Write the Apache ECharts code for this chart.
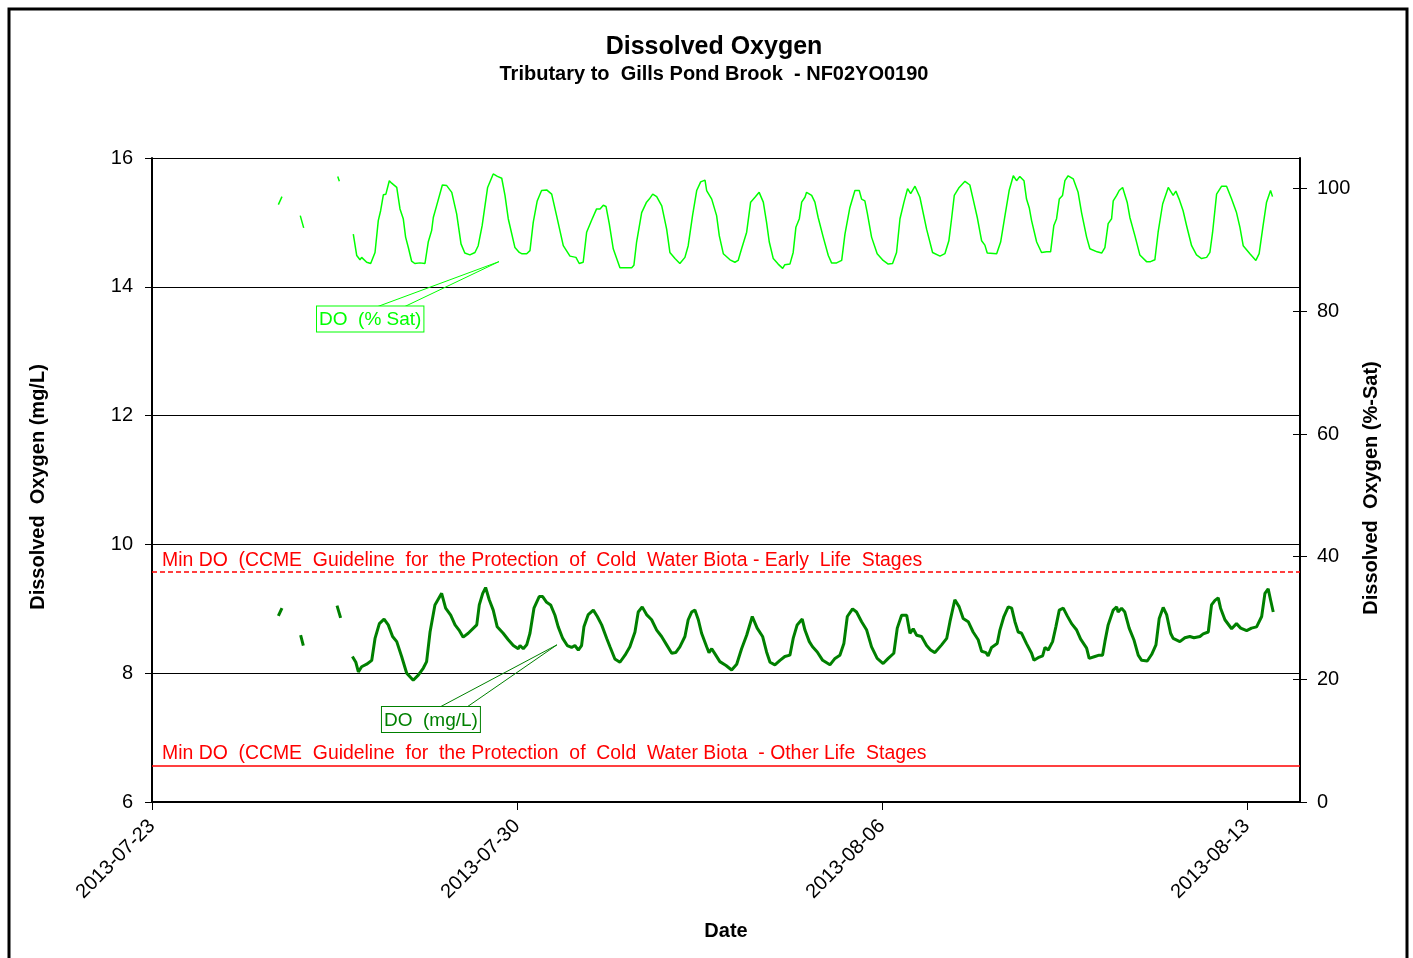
<!DOCTYPE html>
<html>
<head>
<meta charset="utf-8">
<title>Dissolved Oxygen</title>
<script src="https://cdn.jsdelivr.net/npm/echarts@6/dist/echarts.min.js"></script>
<style>
  html, body { margin: 0; padding: 0; background: #fff; }
  #main { width: 1413px; height: 958px; }
</style>
</head>
<body>
<div id="main"></div>
<script>
var FONT = '"Liberation Sans", Arial, sans-serif';
var START = '2013-07-23T00:00';

// DO in % saturation (right axis); null = logger gap
var satTimes = [
  '07-25 10:10','07-25 11:50','07-25 16:00','07-25 20:15','07-25 21:50','07-26 06:00','07-26 13:30','07-26 14:15','07-26 17:00',
  '07-26 20:40','07-26 22:15','07-26 23:45','07-27 00:30','07-27 02:50','07-27 04:40','07-27 06:40','07-27 08:10','07-27 09:15',
  '07-27 10:30','07-27 11:40','07-27 13:15','07-27 14:20','07-27 16:40','07-27 18:10','07-27 19:40','07-27 20:45','07-27 22:00',
  '07-27 23:30','07-28 01:00','07-28 03:20','07-28 05:40','07-28 07:10','07-28 08:45','07-28 09:30','07-28 11:00','07-28 13:40',
  '07-28 15:40','07-28 18:00','07-28 20:15','07-28 22:15','07-29 00:00','07-29 02:20','07-29 04:40','07-29 06:10','07-29 08:00',
  '07-29 10:30','07-29 13:05','07-29 15:00','07-29 17:00','07-29 18:30','07-29 20:00','07-29 23:05','07-30 01:05','07-30 02:10',
  '07-30 04:30','07-30 06:00','07-30 07:30','07-30 09:20','07-30 11:20','07-30 13:40','07-30 16:00','07-30 18:15','07-30 21:20',
  '07-31 00:25','07-31 03:10','07-31 04:40','07-31 06:30','07-31 08:05','07-31 10:25','07-31 12:40','07-31 14:15','07-31 15:45',
  '07-31 17:00','07-31 18:30','07-31 20:20','07-31 23:25','08-01 04:50','08-01 05:50','08-01 07:05','08-01 09:25','08-01 11:40',
  '08-01 12:55','08-01 14:30','08-01 16:20','08-01 18:40','08-01 20:55','08-01 22:25','08-02 00:45','08-02 03:00','08-02 05:20',
  '08-02 06:50','08-02 08:50','08-02 10:45','08-02 12:35','08-02 14:35','08-02 15:20','08-02 17:40','08-02 19:55','08-02 21:10',
  '08-02 23:00','08-03 02:05','08-03 04:20','08-03 05:50','08-03 07:25','08-03 09:45','08-03 11:35','08-03 13:35','08-03 15:30',
  '08-03 17:25','08-03 18:55','08-03 20:10','08-03 22:00','08-04 00:15','08-04 02:20','08-04 03:20','08-04 05:40','08-04 07:10',
  '08-04 08:25','08-04 10:00','08-04 11:05','08-04 12:35','08-04 13:20','08-04 15:40','08-04 17:10','08-04 18:40','08-04 21:00',
  '08-04 23:20','08-05 00:50','08-05 03:10','08-05 05:30','08-05 07:00','08-05 09:15','08-05 11:35','08-05 13:35','08-05 14:40',
  '08-05 16:10','08-05 17:15','08-05 19:15','08-05 21:50','08-06 00:35','08-06 02:55','08-06 04:55','08-06 06:45','08-06 08:20',
  '08-06 10:10','08-06 11:50','08-06 13:15','08-06 15:15','08-06 17:30','08-06 20:35','08-06 23:20','08-07 02:45','08-07 05:00',
  '08-07 06:50','08-07 08:05','08-07 09:20','08-07 11:35','08-07 14:15','08-07 16:30','08-07 18:00','08-07 19:55','08-07 21:55',
  '08-07 23:25','08-08 00:30','08-08 04:50','08-08 06:40','08-08 08:40','08-08 10:35','08-08 12:30','08-08 14:00','08-08 15:30',
  '08-08 17:25','08-08 18:35','08-08 19:50','08-08 20:55','08-08 23:15','08-09 01:30','08-09 03:50','08-09 05:40','08-09 07:10',
  '08-09 08:25','08-09 09:40','08-09 11:10','08-09 12:15','08-09 13:45','08-09 16:05','08-09 18:20','08-09 19:55','08-09 22:15',
  '08-09 23:45','08-10 03:05','08-10 05:10','08-10 06:40','08-10 08:10','08-10 09:45','08-10 10:30','08-10 12:05','08-10 13:15',
  '08-10 14:50','08-10 16:55','08-10 18:10','08-10 20:30','08-10 22:45','08-11 01:50','08-11 03:40','08-11 05:40','08-11 07:10',
  '08-11 09:15','08-11 11:50','08-11 14:05','08-11 15:20','08-11 16:50','08-11 18:40','08-11 20:15','08-11 22:35','08-12 00:50',
  '08-12 03:10','08-12 05:30','08-12 07:00','08-12 08:15','08-12 10:05','08-12 12:25','08-12 14:40','08-12 17:00','08-12 19:15',
  '08-12 20:50','08-12 22:20','08-13 01:25','08-13 04:10','08-13 05:40','08-13 07:30','08-13 09:05','08-13 10:55','08-13 11:50'
];
var satValues = [
  97.4, 98.7, null, 95.6, 93.6, null, 102.0, 101.2, null,
  92.6, 89.1, 88.4, 88.8, 88.0, 87.8, 89.6, 94.8, 96.4,
  99.0, 99.1, 101.3, 100.9, 100.2, 96.7, 95.1, 92.1, 90.4,
  88.2, 87.8, 87.9, 87.8, 91.3, 93.2, 95.3, 97.2, 100.6,
  100.5, 99.4, 95.9, 91.0, 89.5, 89.2, 89.6, 90.7, 94.0,
  100.2, 102.4, 102.0, 101.7, 98.9, 95.1, 90.4, 89.6, 89.4,
  89.4, 89.9, 94.5, 98.0, 99.7, 99.8, 99.1, 95.6, 90.7,
  89.0, 88.8, 87.8, 88.0, 92.9, 94.9, 96.7, 96.7, 97.3,
  97.1, 94.3, 90.2, 87.1, 87.1, 87.5, 91.3, 96.1, 97.8,
  98.3, 99.1, 98.7, 97.2, 93.4, 89.6, 88.6, 87.8, 88.8,
  90.7, 95.6, 99.7, 101.1, 101.4, 99.7, 98.3, 95.6, 92.3,
  89.4, 88.4, 88.0, 88.3, 90.2, 92.9, 97.8, 98.6, 99.4,
  97.8, 94.5, 91.3, 88.6, 87.7, 87.0, 87.6, 87.7, 89.6,
  93.7, 95.1, 97.8, 98.6, 99.4, 98.9, 97.8, 95.3, 92.1,
  89.1, 87.9, 87.9, 88.3, 92.6, 96.9, 99.7, 99.7, 98.3,
  98.0, 96.1, 92.1, 89.4, 88.3, 87.7, 87.8, 89.6, 95.1,
  97.8, 100.0, 99.2, 100.4, 98.6, 93.4, 89.6, 89.0, 89.4,
  91.5, 95.1, 98.9, 100.2, 101.2, 100.6, 98.3, 95.3, 91.5,
  90.8, 89.5, 89.4, 91.3, 95.6, 99.7, 102.1, 101.3, 102.0,
  101.3, 98.3, 96.9, 94.8, 91.3, 89.6, 89.7, 89.7, 94.0,
  95.1, 98.3, 98.9, 101.3, 102.1, 101.6, 99.4, 96.1, 92.1,
  90.2, 89.7, 89.5, 90.4, 94.3, 95.1, 98.0, 98.9, 99.7,
  100.2, 97.8, 95.3, 92.3, 89.2, 88.1, 88.1, 88.4, 92.9,
  97.5, 100.2, 98.9, 99.6, 98.3, 96.4, 94.0, 90.7, 89.2,
  88.6, 88.8, 89.6, 92.9, 99.1, 100.4, 100.4, 98.3, 96.1,
  93.7, 90.7, 89.4, 88.3, 89.4, 94.0, 97.8, 99.7, 98.7
];

// DO in mg/L (left axis); null = logger gap
var mglTimes = [
  '07-25 10:10','07-25 11:50','07-25 16:00','07-25 20:25','07-25 21:40','07-26 06:00','07-26 13:10','07-26 14:50','07-26 17:00',
  '07-26 20:15','07-26 21:50','07-26 23:00','07-27 00:30','07-27 02:50','07-27 05:10','07-27 06:40','07-27 08:40','07-27 10:50',
  '07-27 12:45','07-27 14:45','07-27 16:40','07-27 18:55','07-27 21:15','07-28 00:15','07-28 02:35','07-28 04:55','07-28 06:25',
  '07-28 08:00','07-28 10:15','07-28 13:20','07-28 15:10','07-28 17:30','07-28 19:30','07-28 21:20','07-28 23:15','07-29 01:35',
  '07-29 05:30','07-29 06:40','07-29 08:15','07-29 09:35','07-29 11:15','07-29 13:05','07-29 14:55','07-29 17:40','07-29 20:00',
  '07-29 22:20','07-30 00:35','07-30 01:25','07-30 02:55','07-30 04:30','07-30 06:00','07-30 07:50','07-30 10:15','07-30 11:50',
  '07-30 13:40','07-30 15:30','07-30 17:30','07-30 19:00','07-30 21:05','07-30 23:10','07-31 01:10','07-31 02:40','07-31 04:15',
  '07-31 05:45','07-31 06:50','07-31 08:50','07-31 11:10','07-31 13:00','07-31 15:00','07-31 17:20','07-31 18:50','07-31 21:05',
  '07-31 23:25','08-01 01:45','08-01 04:00','08-01 06:20','08-01 07:50','08-01 09:40','08-01 11:40','08-01 14:00','08-01 16:20',
  '08-01 18:35','08-01 20:55','08-01 23:15','08-02 01:05','08-02 03:00','08-02 05:20','08-02 06:50','08-02 08:25','08-02 09:55',
  '08-02 11:30','08-02 13:00','08-02 15:20','08-02 16:25','08-02 17:40','08-02 19:10','08-02 21:25','08-03 00:15','08-03 02:50',
  '08-03 05:10','08-03 07:25','08-03 09:45','08-03 12:20','08-03 14:35','08-03 17:05','08-03 18:55','08-03 20:30','08-03 22:45',
  '08-04 01:05','08-04 03:20','08-04 05:40','08-04 07:10','08-04 09:00','08-04 11:20','08-04 12:35','08-04 14:35','08-04 16:05',
  '08-04 18:15','08-04 20:45','08-05 00:05','08-05 02:25','08-05 04:40','08-05 06:30','08-05 08:05','08-05 10:30','08-05 12:20',
  '08-05 14:40','08-05 17:00','08-05 19:15','08-05 21:50','08-06 00:35','08-06 02:55','08-06 05:30','08-06 07:05','08-06 09:05',
  '08-06 11:25','08-06 12:55','08-06 14:25','08-06 16:00','08-06 18:15','08-06 20:35','08-06 22:25','08-07 00:25','08-07 03:30',
  '08-07 05:50','08-07 07:20','08-07 09:35','08-07 11:35','08-07 13:25','08-07 15:45','08-07 18:00','08-07 20:20','08-07 21:55',
  '08-07 23:55','08-08 00:55','08-08 02:30','08-08 05:05','08-08 06:20','08-08 08:10','08-08 10:10','08-08 11:45','08-08 13:15',
  '08-08 14:45','08-08 16:20','08-08 18:35','08-08 20:55','08-08 22:00','08-08 23:55','08-09 02:00','08-09 03:05','08-09 04:35',
  '08-09 06:35','08-09 08:05','08-09 09:40','08-09 11:30','08-09 13:20','08-09 15:20','08-09 17:40','08-09 19:30','08-09 22:15',
  '08-09 23:25','08-10 02:05','08-10 04:00','08-10 05:35','08-10 06:40','08-10 08:10','08-10 10:30','08-10 12:05','08-10 12:45',
  '08-10 14:20','08-10 15:50','08-10 17:50','08-10 20:00','08-10 22:00','08-10 23:35','08-11 02:10','08-11 04:10','08-11 06:10',
  '08-11 07:40','08-11 09:30','08-11 11:05','08-11 12:55','08-11 14:05','08-11 17:10','08-11 19:30','08-11 21:45','08-11 23:40',
  '08-12 02:25','08-12 03:55','08-12 06:15','08-12 07:45','08-12 09:20','08-12 10:50','08-12 11:55','08-12 13:55','08-12 17:00',
  '08-12 19:15','08-12 21:10','08-12 23:55','08-13 02:10','08-13 04:30','08-13 06:50','08-13 08:20','08-13 09:50','08-13 10:55',
  '08-13 12:10'
];
var mglValues = [
  8.89, 9.01, null, 8.59, 8.43, null, 9.05, 8.86, null,
  8.26, 8.17, 8.02, 8.10, 8.14, 8.20, 8.54, 8.77, 8.84,
  8.75, 8.57, 8.49, 8.26, 8.00, 7.89, 7.97, 8.08, 8.18,
  8.64, 9.06, 9.24, 9.01, 8.90, 8.75, 8.67, 8.56, 8.62,
  8.75, 9.06, 9.24, 9.33, 9.14, 8.98, 8.72, 8.62, 8.52,
  8.43, 8.38, 8.43, 8.38, 8.44, 8.62, 9.01, 9.19, 9.19,
  9.10, 9.06, 8.90, 8.72, 8.54, 8.43, 8.40, 8.43, 8.36,
  8.43, 8.72, 8.91, 8.98, 8.88, 8.75, 8.54, 8.41, 8.22,
  8.17, 8.28, 8.41, 8.64, 8.95, 9.03, 8.91, 8.83, 8.67,
  8.57, 8.44, 8.31, 8.32, 8.41, 8.57, 8.83, 8.95, 8.98,
  8.83, 8.62, 8.41, 8.32, 8.38, 8.30, 8.18, 8.12, 8.05,
  8.14, 8.38, 8.59, 8.88, 8.70, 8.57, 8.33, 8.17, 8.13,
  8.20, 8.26, 8.28, 8.54, 8.75, 8.84, 8.67, 8.49, 8.41,
  8.33, 8.20, 8.13, 8.23, 8.28, 8.46, 8.88, 9.00, 8.95,
  8.80, 8.67, 8.41, 8.23, 8.15, 8.23, 8.31, 8.70, 8.90,
  8.90, 8.62, 8.69, 8.59, 8.57, 8.43, 8.36, 8.32, 8.44,
  8.54, 8.80, 9.14, 9.03, 8.85, 8.80, 8.64, 8.52, 8.34,
  8.32, 8.27, 8.40, 8.46, 8.67, 8.88, 9.03, 9.01, 8.80,
  8.64, 8.62, 8.46, 8.31, 8.20, 8.24, 8.27, 8.40, 8.36,
  8.49, 8.72, 8.98, 9.01, 8.89, 8.77, 8.67, 8.53, 8.39,
  8.23, 8.26, 8.28, 8.28, 8.49, 8.75, 8.98, 9.03, 8.95,
  9.01, 8.95, 8.70, 8.52, 8.28, 8.20, 8.19, 8.29, 8.44,
  8.85, 9.02, 8.91, 8.62, 8.54, 8.49, 8.55, 8.57, 8.55,
  8.57, 8.61, 8.64, 9.06, 9.13, 9.17, 9.01, 8.83, 8.69,
  8.77, 8.70, 8.66, 8.70, 8.72, 8.88, 9.24, 9.31, 9.14,
  8.95
];

// CCME minimum DO guidelines (mg/L)
var guideEarly = 9.57;
var guideOther = 6.57;

var chart = echarts.init(document.getElementById('main'));
var t0 = new Date(START).getTime();
var DAY = 86400000;

function toDay(t) {
  return (new Date('2013-' + t.replace(' ', 'T')).getTime() - t0) / DAY;
}
function pairs(times, values) {
  return times.map(function (t, i) {
    return [toDay(t), values[i] == null ? '-' : values[i]];
  });
}
function pad(n) { return n < 10 ? '0' + n : '' + n; }
function dayLabel(v) {
  var d = new Date(t0 + Math.round(v) * DAY);
  return d.getFullYear() + '-' + pad(d.getMonth() + 1) + '-' + pad(d.getDate());
}

var black = '#000';

var option = {
  animation: false,
  backgroundColor: '#fff',
  textStyle: { fontFamily: FONT },
  title: {
    text: 'Dissolved Oxygen',
    subtext: 'Tributary to  Gills Pond Brook  - NF02YO0190',
    left: 709,
    top: 30,
    textAlign: 'center',
    itemGap: 4,
    textStyle: { fontSize: 25, fontWeight: 'bold', color: black, fontFamily: FONT },
    subtextStyle: { fontSize: 20, fontWeight: 'bold', color: black, fontFamily: FONT }
  },
  grid: { left: 152, right: 113, top: 158, bottom: 156 },
  xAxis: {
    type: 'value',
    min: 0,
    max: 22.02,
    interval: 7,
    name: 'Date',
    nameLocation: 'middle',
    nameGap: 119,
    nameTextStyle: { fontSize: 20, fontWeight: 'bold', color: black, fontFamily: FONT },
    axisLine: { lineStyle: { color: black, width: 2 } },
    axisTick: { length: 8, lineStyle: { color: black } },
    axisLabel: {
      rotate: 45, fontSize: 20, color: black, margin: 21,
      showMaxLabel: false, formatter: dayLabel, fontFamily: FONT
    },
    splitLine: { show: false }
  },
  yAxis: [
    {
      type: 'value',
      position: 'left',
      min: 6,
      max: 16,
      interval: 2,
      name: 'Dissolved  Oxygen (mg/L)',
      nameLocation: 'middle',
      nameRotate: 90,
      nameGap: 104,
      nameTextStyle: { fontSize: 20, fontWeight: 'bold', color: black, fontFamily: FONT, padding: [0, 14, 0, 0] },
      axisLine: { show: true, lineStyle: { color: black, width: 2 } },
      axisTick: { show: true, length: 7, lineStyle: { color: black } },
      axisLabel: { fontSize: 20, color: black, margin: 19, fontFamily: FONT },
      splitLine: { show: true, lineStyle: { color: black, width: 1 } }
    },
    {
      type: 'value',
      position: 'right',
      min: 0,
      max: 105,
      interval: 20,
      name: 'Dissolved  Oxygen (%-Sat)',
      nameLocation: 'middle',
      nameRotate: 90,
      nameGap: 58,
      nameTextStyle: { fontSize: 20, fontWeight: 'bold', color: black, fontFamily: FONT, padding: [0, 16, 0, 0] },
      axisLine: { show: true, lineStyle: { color: black, width: 2 } },
      axisTick: { show: true, length: 7, lineStyle: { color: black } },
      axisLabel: { fontSize: 20, color: black, margin: 17, showMaxLabel: false, fontFamily: FONT },
      splitLine: { show: false }
    },
    {
      // inner half of the crossing ticks on the right axis
      type: 'value',
      position: 'right',
      min: 0,
      max: 105,
      interval: 20,
      axisLine: { show: false },
      axisTick: { show: true, inside: true, length: 7, lineStyle: { color: black } },
      axisLabel: { show: false },
      splitLine: { show: false }
    }
  ],
  series: [
    {
      name: 'DO (% Sat)',
      type: 'line',
      yAxisIndex: 1,
      data: pairs(satTimes, satValues),
      showSymbol: false,
      connectNulls: false,
      lineStyle: { color: '#00ff00', width: 1.5 },
      itemStyle: { color: '#00ff00' },
      z: 3
    },
    {
      name: 'DO (mg/L)',
      type: 'line',
      yAxisIndex: 0,
      data: pairs(mglTimes, mglValues),
      showSymbol: false,
      connectNulls: false,
      lineStyle: { color: '#008000', width: 3 },
      itemStyle: { color: '#008000' },
      z: 4,
      markLine: {
        silent: true,
        symbol: 'none',
        animation: false,
        label: {
          position: 'insideStartTop',
          color: '#ff0000',
          fontSize: 19.4,
          fontFamily: FONT,
          distance: [10, 2]
        },
        data: [
          {
            yAxis: guideEarly,
            lineStyle: { color: '#ff0000', type: [5, 3], width: 1.5 },
            label: { formatter: 'Min DO  (CCME  Guideline  for  the Protection  of  Cold  Water Biota - Early  Life  Stages' }
          },
          {
            yAxis: guideOther,
            lineStyle: { color: '#ff0000', type: 'solid', width: 1.5 },
            label: { formatter: 'Min DO  (CCME  Guideline  for  the Protection  of  Cold  Water Biota  - Other Life  Stages' }
          }
        ]
      }
    }
  ]
};

chart.setOption(option);

// series callouts, anchored in data coordinates
var notes = [
  { text: 'DO  (% Sat)', color: '#00ff00', axis: 1, tip: [6.655, 88.1], box: [3.165, 80.8], feet: [61, 88] },
  { text: 'DO  (mg/L)', color: '#008000', axis: 0, tip: [7.767, 8.44], box: [4.411, 7.475], feet: [58, 85] }
];

function callout(note) {
  var finder = { xAxisIndex: 0, yAxisIndex: note.axis };
  var tip = chart.convertToPixel(finder, note.tip);
  var box = chart.convertToPixel(finder, note.box);
  return [
    {
      type: 'polyline',
      silent: true,
      z: 10,
      shape: { points: [[box[0] + note.feet[0], box[1]], tip, [box[0] + note.feet[1], box[1]]] },
      style: { stroke: note.color, lineWidth: 1, fill: null }
    },
    {
      type: 'text',
      silent: true,
      z: 11,
      x: box[0],
      y: box[1],
      style: {
        text: note.text,
        fill: note.color,
        font: '19px ' + FONT,
        backgroundColor: '#fff',
        borderColor: note.color,
        borderWidth: 1,
        padding: [4, 2, 2, 2]
      }
    }
  ];
}

var elements = [
  {
    type: 'rect',
    silent: true,
    z: 20,
    shape: { x: 9, y: 9, width: 1398, height: 1000 },
    style: { fill: null, stroke: black, lineWidth: 3 }
  }
];
notes.forEach(function (n) { elements = elements.concat(callout(n)); });

chart.setOption({ graphic: elements });
</script>
</body>
</html>
